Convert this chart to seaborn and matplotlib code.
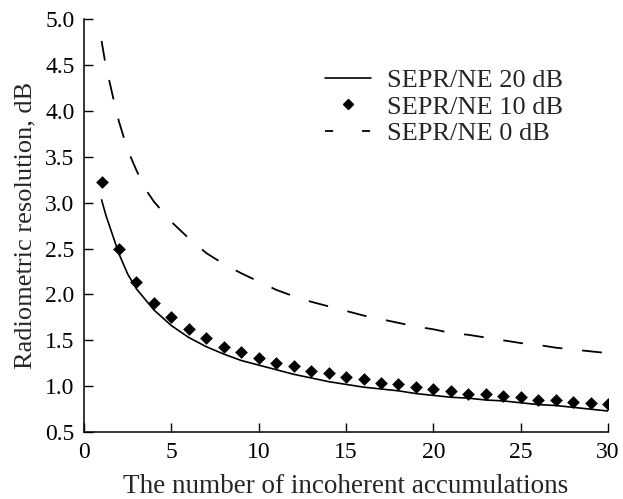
import pandas as pd
import matplotlib
matplotlib.use("Agg")
import matplotlib.pyplot as plt
from matplotlib.lines import Line2D
import seaborn as sns

# SEPR/NE 20 dB (solid curve)
n_20 = [1, 1.25, 1.5, 2, 2.5, 3, 4, 5, 6, 7, 8, 9, 10, 11, 12, 13, 14, 15,
        16, 17, 18, 19, 20, 21, 22, 23, 24, 25, 26, 27, 28, 29, 30]
res_20 = [3.03, 2.86, 2.72, 2.44, 2.22, 2.06, 1.83, 1.66, 1.53, 1.43, 1.35,
          1.28, 1.23, 1.18, 1.13, 1.09, 1.05, 1.02, 0.99, 0.97, 0.95, 0.92,
          0.90, 0.88, 0.87, 0.85, 0.84, 0.82, 0.80, 0.79, 0.77, 0.75, 0.73]

# SEPR/NE 10 dB (diamonds)
n_10 = list(range(1, 31))
res_10 = [3.22, 2.50, 2.13, 1.91, 1.75, 1.62, 1.52, 1.43, 1.37, 1.31,
          1.25, 1.22, 1.17, 1.14, 1.10, 1.08, 1.04, 1.02, 0.99, 0.97,
          0.95, 0.92, 0.91, 0.89, 0.88, 0.85, 0.85, 0.83, 0.82, 0.81]

# SEPR/NE 0 dB (dashed curve)
n_0 = [1, 1.25, 1.5, 1.75, 2, 2.5, 3, 3.5, 4, 5, 6, 7, 8, 9, 10, 11, 12, 13,
       14, 15, 16, 17, 18, 19, 20, 21, 22, 23, 24, 25, 26, 27, 28, 29, 30]
res_0 = [4.76, 4.48, 4.28, 4.07, 3.88, 3.57, 3.35, 3.15, 3.01, 2.79, 2.61,
         2.45, 2.33, 2.23, 2.14, 2.05, 1.98, 1.92, 1.87, 1.82, 1.77, 1.73,
         1.69, 1.65, 1.62, 1.58, 1.56, 1.53, 1.50, 1.47, 1.45, 1.42, 1.40,
         1.38, 1.36]

labels = ["SEPR/NE 20 dB", "SEPR/NE 10 dB", "SEPR/NE 0 dB"]

sns.set_style("ticks")
plt.rcParams['font.family'] = ['Liberation Serif', 'DejaVu Serif']
plt.rcParams['xtick.direction'] = 'in'
plt.rcParams['ytick.direction'] = 'in'

df20 = pd.DataFrame({"n": n_20, "r": res_20})
df10 = pd.DataFrame({"n": n_10, "r": res_10})
df0 = pd.DataFrame({"n": n_0, "r": res_0})

fig = plt.figure(figsize=(6.23, 4.99), dpi=100)
ax = fig.add_axes([0.135, 0.134, 0.841, 0.828])

sns.lineplot(data=df20, x="n", y="r", color="black", linewidth=1.2, ax=ax)
sns.lineplot(data=df0, x="n", y="r", color="black", linewidth=1.3,
             dashes=False, ax=ax).lines[-1].set_dashes((11, 11))
sns.scatterplot(data=df10, x="n", y="r", color="black", marker="D", s=42,
                edgecolor="black", linewidth=0, ax=ax, zorder=3)

ax.set_xlim(0, 30)
ax.set_ylim(0.5, 5.0)
ax.set_xticks([0, 5, 10, 15, 20, 25, 30])
ax.set_yticks([0.5, 1.0, 1.5, 2.0, 2.5, 3.0, 3.5, 4.0, 4.5, 5.0])
ax.set_yticklabels([f"{v:.1f}" for v in ax.get_yticks()])
ax.tick_params(length=6.5, width=1.0, labelsize=17, colors="black", pad=7)
for s in ["left", "bottom"]:
    ax.spines[s].set_linewidth(1.1)
    ax.spines[s].set_color("black")
sns.despine(ax=ax)

ax.set_xlabel("The number of incoherent accumulations", fontsize=19.5, labelpad=8)
ax.set_ylabel("Radiometric resolution, dB", fontsize=19, labelpad=6)

handles = [
    Line2D([], [], color="black", linewidth=1.2),
    Line2D([], [], color="black", marker="D", markersize=5, linestyle="none"),
    Line2D([], [], color="black", linewidth=1.3, linestyle=(0, (4.5, 16))),
]
ax.legend(handles, labels, loc="upper left", bbox_to_anchor=(0.46, 0.88),
          borderaxespad=0, borderpad=0, frameon=False, fontsize=19,
          handlelength=1.75, handletextpad=0.6, labelspacing=0.12)

fig.savefig("out.png", dpi=100)
